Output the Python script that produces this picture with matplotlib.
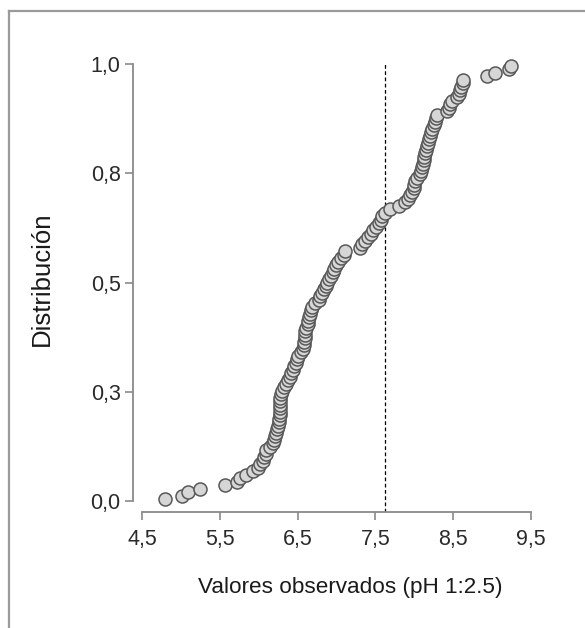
import matplotlib
matplotlib.use("Agg")
import matplotlib.pyplot as plt
from matplotlib.lines import Line2D
import numpy as np

plt.rcParams['font.family'] = ['Liberation Sans', 'DejaVu Sans']

ph_values = [
    4.80, 5.01, 5.09, 5.25, 5.57, 5.72, 5.76, 5.84, 5.93, 5.99,
    6.02, 6.05, 6.07, 6.09, 6.10, 6.15, 6.19, 6.20, 6.21, 6.22,
    6.24, 6.25, 6.26, 6.26, 6.27, 6.27, 6.27, 6.28, 6.28, 6.28,
    6.29, 6.30, 6.32, 6.35, 6.38, 6.40, 6.42, 6.44, 6.46, 6.48,
    6.49, 6.50, 6.55, 6.57, 6.58, 6.58, 6.59, 6.59, 6.60, 6.61,
    6.63, 6.64, 6.65, 6.66, 6.67, 6.69, 6.73, 6.77, 6.79, 6.82,
    6.84, 6.86, 6.88, 6.90, 6.93, 6.95, 6.97, 6.99, 7.02, 7.06,
    7.09, 7.11, 7.30, 7.33, 7.37, 7.40, 7.44, 7.47, 7.51, 7.54,
    7.57, 7.59, 7.62, 7.69, 7.80, 7.88, 7.92, 7.95, 7.97, 7.99,
    8.00, 8.01, 8.04, 8.07, 8.08, 8.10, 8.11, 8.12, 8.13, 8.14,
    8.15, 8.16, 8.17, 8.19, 8.20, 8.22, 8.23, 8.25, 8.26, 8.28,
    8.29, 8.42, 8.44, 8.46, 8.48, 8.55, 8.57, 8.59, 8.60, 8.62,
    8.63, 8.93, 9.04, 9.22, 9.24,
]
ref_value = 7.62
x_ticks = [4.5, 5.5, 6.5, 7.5, 8.5, 9.5]
x_tick_labels = ["4,5", "5,5", "6,5", "7,5", "8,5", "9,5"]
y_ticks = [0.0, 0.25, 0.5, 0.75, 1.0]
y_tick_labels = ["0,0", "0,3", "0,5", "0,8", "1,0"]
x_label = "Valores observados (pH 1:2.5)"
y_label = "Distribución"

W, H = 585, 628
fig = plt.figure(figsize=(W / 100, H / 100), dpi=100)
fig.patch.set_facecolor('white')

# axes placement in pixels
ax_l, ax_r, ax_t, ax_b = 133, 540, 53, 512
ax = fig.add_axes([ax_l / W, 1 - ax_b / H, (ax_r - ax_l) / W, (ax_b - ax_t) / H])

vals = np.sort(np.array(ph_values))
n = len(vals)
ecdf = (np.arange(1, n + 1) - 0.5) / n

ax.vlines(ref_value, -0.025, 1.0, colors='black', linestyles=(0, (3, 2)), linewidth=0.9, zorder=1)
ax.scatter(vals, ecdf, s=88, facecolor='#d6d6d6', edgecolor='#585858', linewidth=1.1, zorder=3)

ax.set_xlim(4.385, 9.615)
ax.set_ylim(-0.025, 1.025)

for s in ['top', 'right']:
    ax.spines[s].set_visible(False)
ax.spines['left'].set_bounds(0, 1)
ax.spines['bottom'].set_bounds(4.5, 9.5)
for s in ['left', 'bottom']:
    ax.spines[s].set_color('#8a8a8a')
    ax.spines[s].set_linewidth(1.3)

ax.set_xticks(x_ticks)
ax.set_xticklabels(x_tick_labels)
ax.set_yticks(y_ticks)
ax.set_yticklabels(y_tick_labels)
ax.tick_params(axis='both', colors='#8a8a8a', labelcolor='#2a2a2a', labelsize=15.5,
               length=6, width=1.2, direction='out')
ax.tick_params(axis='x', pad=6)
ax.tick_params(axis='y', pad=3)

fig.text(350 / W, 1 - 587 / H, x_label, ha='center', va='center', fontsize=16.2, color='#1a1a1a')
fig.text(42 / W, 1 - 279 / H, y_label, ha='center', va='center', rotation=90, fontsize=18.5, color='#1a1a1a')

# outer frame (left and top edges visible)
fig.add_artist(Line2D([9 / W, 9 / W], [0, 1 - 11 / H], transform=fig.transFigure, color='#9a9a9a', linewidth=1.6))
fig.add_artist(Line2D([9 / W, 1], [1 - 11 / H, 1 - 11 / H], transform=fig.transFigure, color='#9a9a9a', linewidth=1.6))

fig.savefig('out.png', dpi=100, facecolor='white')
